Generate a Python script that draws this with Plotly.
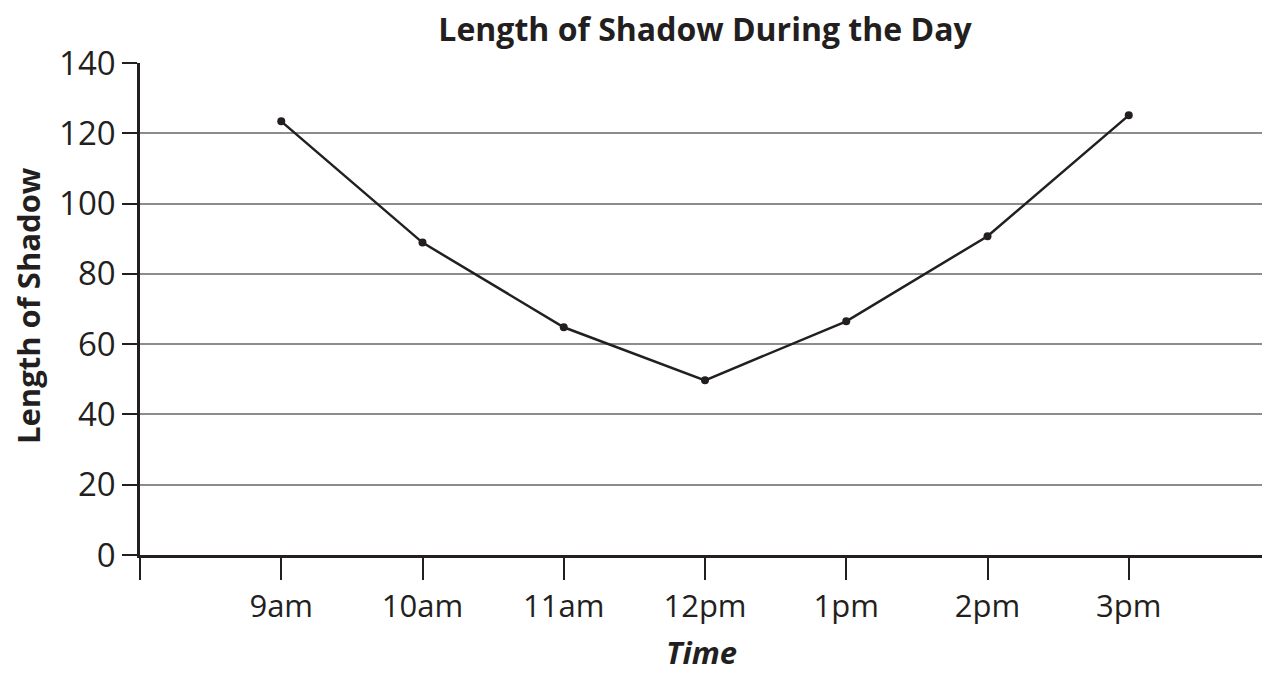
import plotly.graph_objects as go

# Data
times = ["9am", "10am", "11am", "12pm", "1pm", "2pm", "3pm"]
shadow_length = [123.4, 88.9, 64.8, 49.7, 66.5, 90.7, 125.1]
y_ticks = [0, 20, 40, 60, 80, 100, 120, 140]

INK = "#231f20"
GRID = "#8c8c8c"
FONT = "Open Sans"

x_pos = list(range(len(times)))

fig = go.Figure(
    go.Scatter(
        x=x_pos,
        y=shadow_length,
        mode="lines+markers",
        line=dict(color=INK, width=2.5),
        marker=dict(size=8, color=INK),
        hoverinfo="x+y",
    )
)

# page has an 8px body margin, so the figure is sized to fit the window
W, H = 1262, 667
L, R, T, B = 132, 0, 55, 120
pw, ph = W - L - R, H - T - B

fig.update_layout(
    width=W,
    height=H,
    margin=dict(l=L, r=R, t=T, b=B),
    plot_bgcolor="white",
    paper_bgcolor="white",
    showlegend=False,
    font=dict(family=FONT, color=INK),
    title=dict(
        text="<b>Length of Shadow During the Day</b>",
        x=(L + pw / 2) / W,
        xanchor="center",
        y=1 - 22 / H,
        yanchor="middle",
        font=dict(size=32, family=FONT, color=INK),
    ),
)

fig.update_xaxes(
    range=[-1, len(times)],
    tickvals=list(range(-1, len(times))),
    ticktext=[""] + times,
    showgrid=False,
    zeroline=False,
    showline=True,
    linecolor=INK,
    linewidth=2.5,
    ticks="outside",
    ticklen=22,
    tickwidth=2,
    tickcolor=INK,
    tickfont=dict(size=31, family=FONT, color=INK),
)

fig.update_yaxes(
    range=[0, 140],
    tickvals=y_ticks,
    showgrid=True,
    gridcolor=GRID,
    gridwidth=2,
    zeroline=False,
    showline=True,
    linecolor=INK,
    linewidth=2.5,
    ticks="outside",
    ticklen=15,
    tickwidth=2,
    tickcolor=INK,
    tickfont=dict(size=33, family=FONT, color=INK),
)

fig.add_annotation(
    text="<b>Length of Shadow</b>",
    xref="paper", yref="paper",
    x=(20 - L) / pw, y=(H - B - 298) / ph,
    textangle=-90, showarrow=False,
    xanchor="center", yanchor="middle",
    borderpad=0,
    font=dict(size=31, family=FONT, color=INK),
)
fig.add_annotation(
    text="<b><i>Time</i></b>",
    xref="paper", yref="paper",
    x=(693 - L) / pw, y=(H - B - 644) / ph,
    showarrow=False,
    xanchor="center", yanchor="middle",
    borderpad=0,
    font=dict(size=31, family=FONT, color=INK),
)

fig.write_html("out.html")
